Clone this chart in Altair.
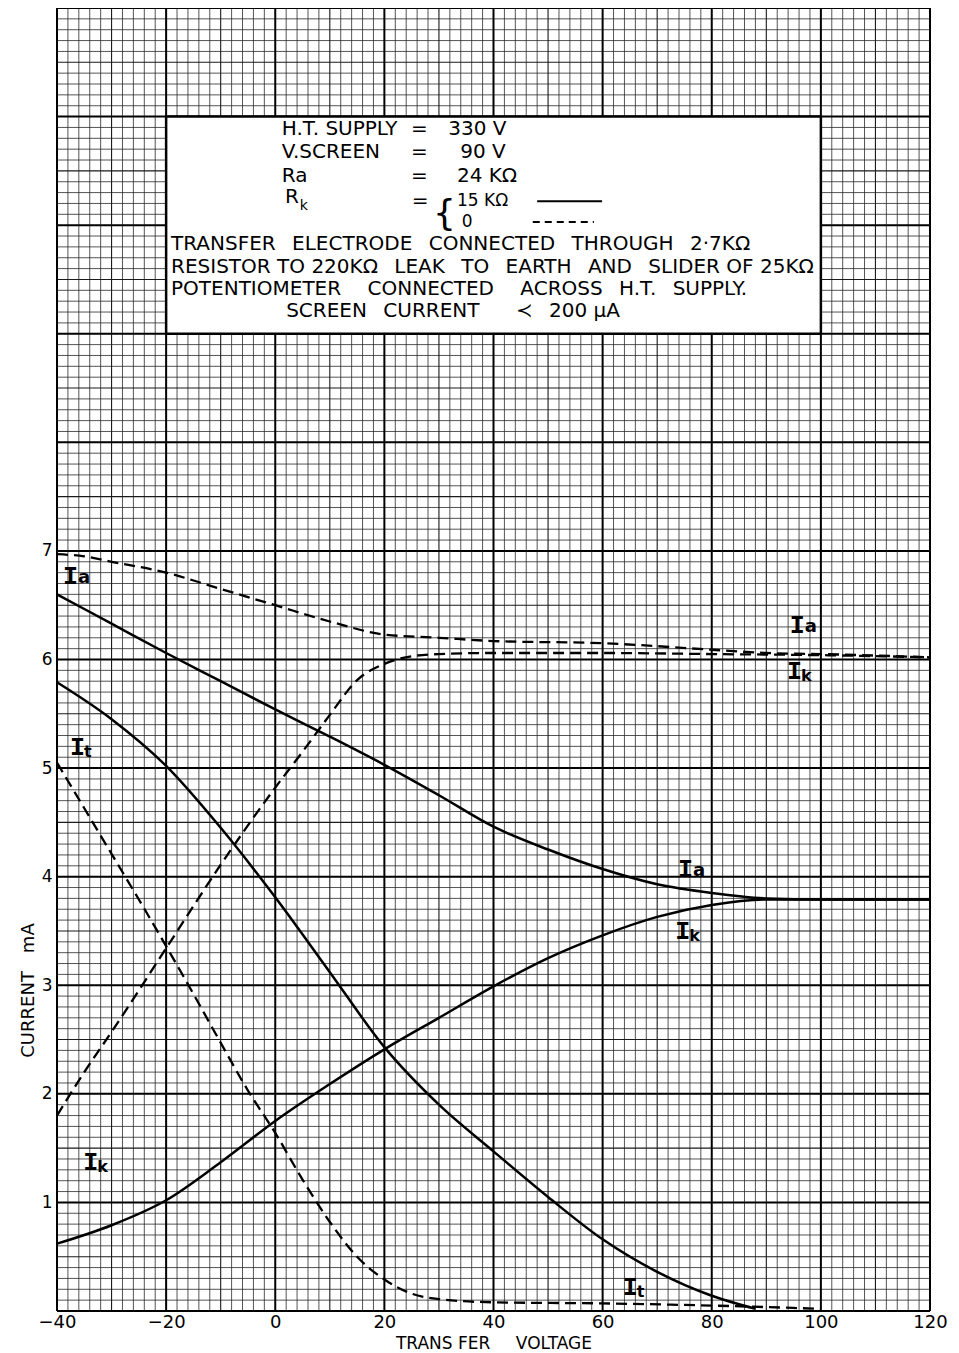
import altair as alt
import pandas as pd

# ---------------- data ----------------
# Rk = 15 kOhm  (solid curves)
ia_solid_v = [-40, -30, -20, -10, 0, 10, 20, 30, 40, 50, 60, 70, 80, 90, 100, 120]
ia_solid_i = [6.60, 6.33, 6.06, 5.80, 5.54, 5.29, 5.03, 4.75, 4.46, 4.25, 4.07, 3.93, 3.85, 3.80, 3.79, 3.79]
ik_solid_v = [-40, -30, -20, -10, 0, 10, 20, 30, 40, 50, 60, 70, 80, 90, 100, 120]
ik_solid_i = [0.62, 0.79, 1.02, 1.37, 1.75, 2.09, 2.41, 2.70, 2.99, 3.25, 3.46, 3.63, 3.74, 3.79, 3.79, 3.79]
it_solid_v = [-40, -30, -20, -10, 0, 10, 20, 30, 40, 50, 60, 70, 80, 88]
it_solid_i = [5.79, 5.45, 5.02, 4.45, 3.81, 3.12, 2.43, 1.90, 1.47, 1.05, 0.66, 0.36, 0.14, 0.02]

# Rk = 0  (dashed curves)
ia_dash_v = [-40, -35, -30, -20, -10, 0, 10, 20, 30, 40, 60, 80, 90, 100, 120]
ia_dash_i = [6.97, 6.95, 6.90, 6.80, 6.65, 6.50, 6.35, 6.23, 6.20, 6.17, 6.15, 6.09, 6.06, 6.05, 6.02]
ik_dash_v = [-40, -35, -30, -20, -10, 0, 5, 10, 15, 20, 25, 30, 40, 60, 80, 100, 120]
ik_dash_i = [1.80, 2.20, 2.57, 3.34, 4.11, 4.82, 5.15, 5.49, 5.81, 5.96, 6.03, 6.05, 6.06, 6.06, 6.05, 6.04, 6.02]
it_dash_v = [-40, -35, -30, -25, -20, -15, -10, -5, 0, 5, 10, 15, 20, 25, 30, 40, 60, 80, 100]
it_dash_i = [5.05, 4.63, 4.21, 3.79, 3.36, 2.92, 2.47, 2.03, 1.64, 1.21, 0.82, 0.50, 0.29, 0.16, 0.11, 0.08, 0.07, 0.05, 0.02]

# axis ticks
x_ticks = [-40, -20, 0, 20, 40, 60, 80, 100, 120]
y_ticks = [1, 2, 3, 4, 5, 6, 7]

# curve labels  ("I" + subscript)
lab_x = [-38.9, -37.6, -35.2, 94.3, 93.8, 73.8, 73.3, 63.7]
lab_y = [6.77, 5.19, 1.37, 6.32, 5.89, 4.07, 3.50, 0.22]
lab_sub = ["a", "t", "k", "a", "k", "a", "k", "t"]

# annotation box
box_x = [-20]
box_x2 = [100]
box_y = [9]
box_y2 = [11]

EN = "\u2002"
EM = "\u2003"
box_text = [
    "H.T. SUPPLY", "=", "330 V",
    "V.SCREEN", "=", "90 V",
    "Ra", "=", "24 KΩ",
    "R", "=",
    "TRANSFER" + EN + " ELECTRODE" + EN + " CONNECTED" + EN + " THROUGH" + EN + " 2·7KΩ",
    "RESISTOR TO 220KΩ" + EN + " LEAK" + EN + " TO" + EN + " EARTH" + EN + " AND" + EN + " SLIDER OF 25KΩ",
    "POTENTIOMETER" + EM + " CONNECTED" + EM + " ACROSS" + EN + " H.T." + EN + " SUPPLY.",
    "SCREEN" + EN + " CURRENT" + EM + EN + " ≺" + EN + " 200 μA",
]
box_text_x = [1.2, 24.9, 31.7,
              1.2, 24.9, 33.9,
              1.2, 24.9, 33.3,
              1.8, 25.0,
              -19.1, -19.1, -19.1, 2.0]
box_text_y = [10.83, 10.83, 10.83,
              10.62, 10.62, 10.62,
              10.40, 10.40, 10.40,
              10.20, 10.17,
              9.77, 9.56, 9.36, 9.15]

# Rk values next to the brace
rk_text = ["15  KΩ", "0"]
rk_text_x = [33.3, 34.2]
rk_text_y = [10.18, 9.98]

# legend samples inside the box
leg_style = ["solid", "dashed"]
leg_x = [48.0, 47.2]
leg_x2 = [59.9, 58.4]
leg_y = [10.22, 10.03]

# ---------------- build ----------------
FONT = "DejaVu Sans"
xsc = alt.Scale(domain=[-40, 120], nice=False, zero=False)
ysc = alt.Scale(domain=[0, 12], nice=False, zero=False)

xax = alt.Axis(values=x_ticks, title="TRANS FER" + EM + EN + "VOLTAGE", grid=False, ticks=False,
               domain=False, labelFontSize=18, labelFont=FONT, labelColor="black",
               labelPadding=2, labelFlush=False, titleFont=FONT, titleFontSize=17,
               titleFontWeight="normal", titleColor="black",
               titleY=37, titleBaseline="alphabetic")
yax = alt.Axis(values=y_ticks, title="CURRENT" + EM + "mA", grid=False, ticks=False,
               domain=False, labelFontSize=17, labelFont=FONT, labelColor="black",
               labelPadding=5, titleFont=FONT, titleFontSize=18,
               titleFontWeight="normal", titleColor="black", titleAngle=270,
               titleX=-29, titleY=982, titleAlign="center", titleBaseline="middle")


def X(f):
    return alt.X(f, scale=xsc, axis=xax)


def Y(f):
    return alt.Y(f, scale=ysc, axis=yax)


# graph-paper grid
xv_minor = [v for v in range(-40, 121, 2) if v % 10 != 0]
xv_med = [v for v in range(-40, 121, 10) if v % 20 != 0]
xv_major = [v for v in range(-40, 121, 20)]
yv_minor = [i / 10 for i in range(0, 121) if i % 5 != 0]
yv_med = [i / 10 for i in range(0, 121) if i % 5 == 0 and i % 10 != 0]
yv_major = [i / 10 for i in range(0, 121) if i % 10 == 0]


def vgrid(vals, w, col):
    return alt.Chart(pd.DataFrame({"gx": vals})).mark_rule(
        color=col, strokeWidth=w).encode(x=X("gx:Q"))


def hgrid(vals, w, col):
    return alt.Chart(pd.DataFrame({"gy": vals})).mark_rule(
        color=col, strokeWidth=w).encode(y=Y("gy:Q"))


box = alt.Chart(pd.DataFrame({"bx": box_x, "bx2": box_x2, "by": box_y, "by2": box_y2})).mark_rect(
    fill="white", stroke="black", strokeWidth=2.5).encode(
    x=X("bx:Q"), x2="bx2:Q", y=Y("by:Q"), y2="by2:Q")

btxt = alt.Chart(pd.DataFrame({"t": box_text, "x": box_text_x, "y": box_text_y})).mark_text(
    align="left", baseline="alphabetic", font=FONT, fontSize=20, color="black").encode(
    x=X("x:Q"), y=Y("y:Q"), text="t:N")

rktxt = alt.Chart(pd.DataFrame({"t": rk_text, "x": rk_text_x, "y": rk_text_y})).mark_text(
    align="left", baseline="alphabetic", font=FONT, fontSize=17, color="black").encode(
    x=X("x:Q"), y=Y("y:Q"), text="t:N")

rk_sub = alt.Chart(pd.DataFrame({"t": ["k"], "x": [4.5], "y": [10.14]})).mark_text(
    align="left", baseline="alphabetic", font=FONT, fontSize=14, color="black").encode(
    x=X("x:Q"), y=Y("y:Q"), text="t:N")

brace = alt.Chart(pd.DataFrame({"t": ["{"], "x": [28.9], "y": [10.10]})).mark_text(
    align="left", baseline="middle", font=FONT, fontSize=36, color="black").encode(
    x=X("x:Q"), y=Y("y:Q"), text="t:N")

leg_df = pd.DataFrame({"s": leg_style, "x": leg_x, "x2": leg_x2, "y": leg_y})
leg_solid = alt.Chart(leg_df[leg_df.s == "solid"]).mark_rule(color="black", strokeWidth=2).encode(
    x=X("x:Q"), x2="x2:Q", y=Y("y:Q"))
leg_dash = alt.Chart(leg_df[leg_df.s == "dashed"]).mark_rule(
    color="black", strokeWidth=2, strokeDash=[7, 5]).encode(
    x=X("x:Q"), x2="x2:Q", y=Y("y:Q"))


def ser(name, vs, cs):
    return pd.DataFrame({"V": vs, "I": cs, "series": name})


solid_df = pd.concat([ser("Ia", ia_solid_v, ia_solid_i), ser("Ik", ik_solid_v, ik_solid_i),
                      ser("It", it_solid_v, it_solid_i)])
dash_df = pd.concat([ser("Ia", ia_dash_v, ia_dash_i), ser("Ik", ik_dash_v, ik_dash_i),
                     ser("It", it_dash_v, it_dash_i)])

solid_lines = alt.Chart(solid_df).mark_line(color="black", strokeWidth=2.5, interpolate="monotone").encode(
    x=X("V:Q"), y=Y("I:Q"), detail="series:N")
dash_lines = alt.Chart(dash_df).mark_line(color="black", strokeWidth=2.3, strokeDash=[11, 6],
                                          interpolate="monotone").encode(
    x=X("V:Q"), y=Y("I:Q"), detail="series:N")

lab_df = pd.DataFrame({"x": lab_x, "y": lab_y, "sub": lab_sub, "I": ["I"] * len(lab_x)})
lab_I = alt.Chart(lab_df).mark_text(align="left", baseline="middle", font="Liberation Mono",
                                    fontWeight="bold", fontSize=25, color="black").encode(
    x=X("x:Q"), y=Y("y:Q"), text="I:N")
lab_a = alt.Chart(lab_df[lab_df["sub"] == "a"]).mark_text(
    align="left", baseline="middle", font=FONT, fontSize=18, fontWeight="bold",
    color="black", dx=15, dy=2).encode(
    x=X("x:Q"), y=Y("y:Q"), text="sub:N")
lab_kt = alt.Chart(lab_df[lab_df["sub"] != "a"]).mark_text(
    align="left", baseline="middle", font=FONT, fontSize=16, fontWeight="bold",
    color="black", dx=14, dy=5).encode(
    x=X("x:Q"), y=Y("y:Q"), text="sub:N")

chart = alt.layer(
    vgrid(xv_minor, 0.8, "#2a2a2a"), hgrid(yv_minor, 0.8, "#2a2a2a"),
    vgrid(xv_med, 1.1, "#1a1a1a"), hgrid(yv_med, 1.1, "#1a1a1a"),
    vgrid(xv_major, 2.0, "black"), hgrid(yv_major, 2.0, "black"),
    box, btxt, rktxt, rk_sub, brace, leg_solid, leg_dash,
    solid_lines, dash_lines, lab_I, lab_a, lab_kt,
).properties(
    width=873, height=1303,
    autosize=alt.AutoSizeParams(type="none"),
    padding={"left": 49, "top": 0, "right": 20, "bottom": 44},
    background="white",
).configure_view(strokeWidth=0)

chart.save("out.html", embed_options={"renderer": "svg", "actions": False})
